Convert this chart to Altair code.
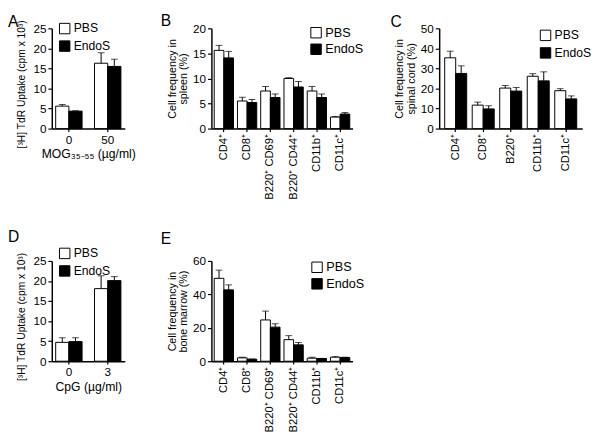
import altair as alt
import pandas as pd

groups = ["PBS", "EndoS"]

# Panel A: [3H] TdR uptake vs MOG35-55
a_cats = ["0", "50"]
a_pbs = [5.6, 16.3]
a_pbs_err = [6.0, 18.9]
a_endo = [4.35, 15.5]
a_endo_err = [4.45, 17.3]

# Panel B: spleen
b_cats = ["CD4⁺", "CD8⁺", "B220⁺ CD69⁺", "B220⁺ CD44⁺", "CD11b⁺", "CD11c⁺"]
b_pbs = [15.6, 5.5, 7.5, 10.0, 7.5, 2.3]
b_pbs_err = [16.6, 6.25, 8.4, 10.15, 8.4, 2.4]
b_endo = [14.1, 5.2, 6.2, 8.3, 6.2, 2.9]
b_endo_err = [15.4, 5.8, 6.9, 9.4, 6.9, 3.2]

# Panel C: spinal cord
c_cats = ["CD4⁺", "CD8⁺", "B220⁺", "CD11b⁺", "CD11c⁺"]
c_pbs = [35.3, 11.7, 20.2, 26.1, 18.9]
c_pbs_err = [38.6, 13.2, 21.5, 27.4, 19.9]
c_endo = [27.5, 9.8, 18.7, 23.8, 14.8]
c_endo_err = [31.3, 11.4, 20.5, 28.3, 16.3]

# Panel D: [3H] TdR uptake vs CpG
d_cats = ["0", "3"]
d_pbs = [4.7, 18.1]
d_pbs_err = [5.85, 21.3]
d_endo = [4.9, 20.1]
d_endo_err = [5.85, 21.1]

# Panel E: bone marrow
e_cats = ["CD4⁺", "CD8⁺", "B220⁺ CD69⁺", "B220⁺ CD44⁺", "CD11b⁺", "CD11c⁺"]
e_pbs = [49.6, 2.0, 24.7, 12.9, 1.8, 2.4]
e_pbs_err = [54.5, 2.4, 30.0, 15.3, 2.4, 2.9]
e_endo = [42.7, 1.2, 20.4, 9.8, 1.6, 2.2]
e_endo_err = [45.7, 1.3, 22.4, 11.2, 1.7, 2.4]

FONT = "Liberation Sans"


def panel(letter, cats, pbs, pbs_err, endo, endo_err, ymax, ystep, ytitle,
          xtitle, width, height, pin, pout, lx, ly, angle, tdx, tdy,
          legend_size=12.5, ytitle_pad=4, ytitle_y=None, xlabel_size=12,
          ytitle_size=11):
    n = len(cats)
    df = pd.DataFrame({
        "cat": cats * 2,
        "grp": ["PBS"] * n + ["EndoS"] * n,
        "val": pbs + endo,
        "err": pbs_err + endo_err,
    })
    xaxis = alt.Axis(
        title=xtitle, labelAngle=angle, tickSize=3,
        labelPadding=2 if angle else 3,
        titlePadding=3, labelFontSize=xlabel_size, titleFontSize=12.5,
    )
    x = alt.X("cat:N", sort=cats,
              scale=alt.Scale(paddingInner=pin, paddingOuter=pout),
              axis=xaxis)
    xo = alt.XOffset("grp:N", sort=groups,
                     scale=alt.Scale(domain=groups, paddingInner=0,
                                     paddingOuter=0))
    yargs = dict(title=ytitle, values=list(range(0, ymax + 1, ystep)),
                 tickSize=4, labelPadding=2, titlePadding=ytitle_pad,
                 labelFontSize=12, titleFontSize=ytitle_size,
                 titleLineHeight=12)
    if ytitle_y is not None:
        yargs["titleY"] = ytitle_y
    yaxis = alt.Axis(**yargs)
    yscale = alt.Scale(domain=[0, ymax], nice=False)
    base = alt.Chart(df)
    bars = base.mark_bar(stroke="black", strokeWidth=1).encode(
        x=x, xOffset=xo,
        y=alt.Y("val:Q", scale=yscale, axis=yaxis),
        fill=alt.Fill("grp:N", sort=groups,
                      scale=alt.Scale(domain=groups, range=["white", "black"]),
                      legend=alt.Legend(
                          title=None, orient="none", legendX=lx, legendY=ly,
                          symbolType="square", symbolSize=115,
                          symbolStrokeColor="black", symbolStrokeWidth=1,
                          labelFontSize=legend_size, labelFont=FONT,
                          labelColor="black", rowPadding=2, labelOffset=3,
                          padding=0)),
    )
    rules = base.mark_rule(color="black", strokeWidth=1).encode(
        x=x, xOffset=xo,
        y=alt.Y("val:Q", scale=yscale, axis=yaxis), y2="err:Q",
    )
    caps = base.mark_tick(color="black", thickness=1, size=7,
                          orient="horizontal").encode(
        x=x, xOffset=xo,
        y=alt.Y("err:Q", scale=yscale, axis=yaxis),
    )
    return alt.layer(bars, rules, caps).properties(
        width=width, height=height,
        title=alt.TitleParams(text=letter, anchor="start", frame="group",
                              orient="top", fontSize=16, fontWeight="normal",
                              font=FONT, color="black", dx=tdx, dy=tdy),
    )


A = panel("A", a_cats, a_pbs, a_pbs_err, a_endo, a_endo_err, 25, 5,
          "[³H] TdR Uptake (cpm x 10³)", "MOG₃₅₋₅₅ (µg/ml)", 75, 103,
          0.32, 0.1, 7, -6, 0, -45, 15, ytitle_pad=7, ytitle_y=57,
          ytitle_size=10.5)
B = panel("B", b_cats, b_pbs, b_pbs_err, b_endo, b_endo_err, 20, 5,
          ["Cell frequency in", "spleen (%)"], None, 145, 103,
          0.17, 0.12, 101, -2, 270, -52, 11, legend_size=13,
          xlabel_size=11.5)
C = panel("C", c_cats, c_pbs, c_pbs_err, c_endo, c_endo_err, 50, 10,
          ["Cell frequency in", "spinal cord (%)"], None, 147, 103,
          0.2, 0.2, 103, 1, 270, -50, 12, xlabel_size=11.5)
D = panel("D", d_cats, d_pbs, d_pbs_err, d_endo, d_endo_err, 25, 5,
          "[³H] TdR Uptake (cpm x 10³)", "CpG (µg/ml)", 75, 103,
          0.32, 0.1, 7, -14, 0, -45, 2, ytitle_pad=7, ytitle_y=57,
          ytitle_size=10.5)
E = panel("E", e_cats, e_pbs, e_pbs_err, e_endo, e_endo_err, 60, 20,
          ["Cell frequency in", "bone marrow (%)"], None, 145, 103,
          0.17, 0.12, 102, 0, 270, -52, -4, legend_size=13,
          xlabel_size=11.5)

chart = alt.concat(
    A, B, C, D, E, columns=3, bounds="flush",
    spacing={"row": 136, "column": 89},
).resolve_scale(
    fill="independent", x="independent", y="independent",
    xOffset="independent"
).resolve_legend(fill="independent").configure(
    padding=0, background="white", font=FONT
).configure_view(stroke=None).configure_axis(
    domainColor="black", domainWidth=1.5, tickColor="black", tickWidth=1.2,
    labelColor="black", titleColor="black", labelFont=FONT, titleFont=FONT,
    titleFontWeight="normal", grid=False
)

chart.save("out.html", embed_options={"renderer": "svg", "actions": False})
